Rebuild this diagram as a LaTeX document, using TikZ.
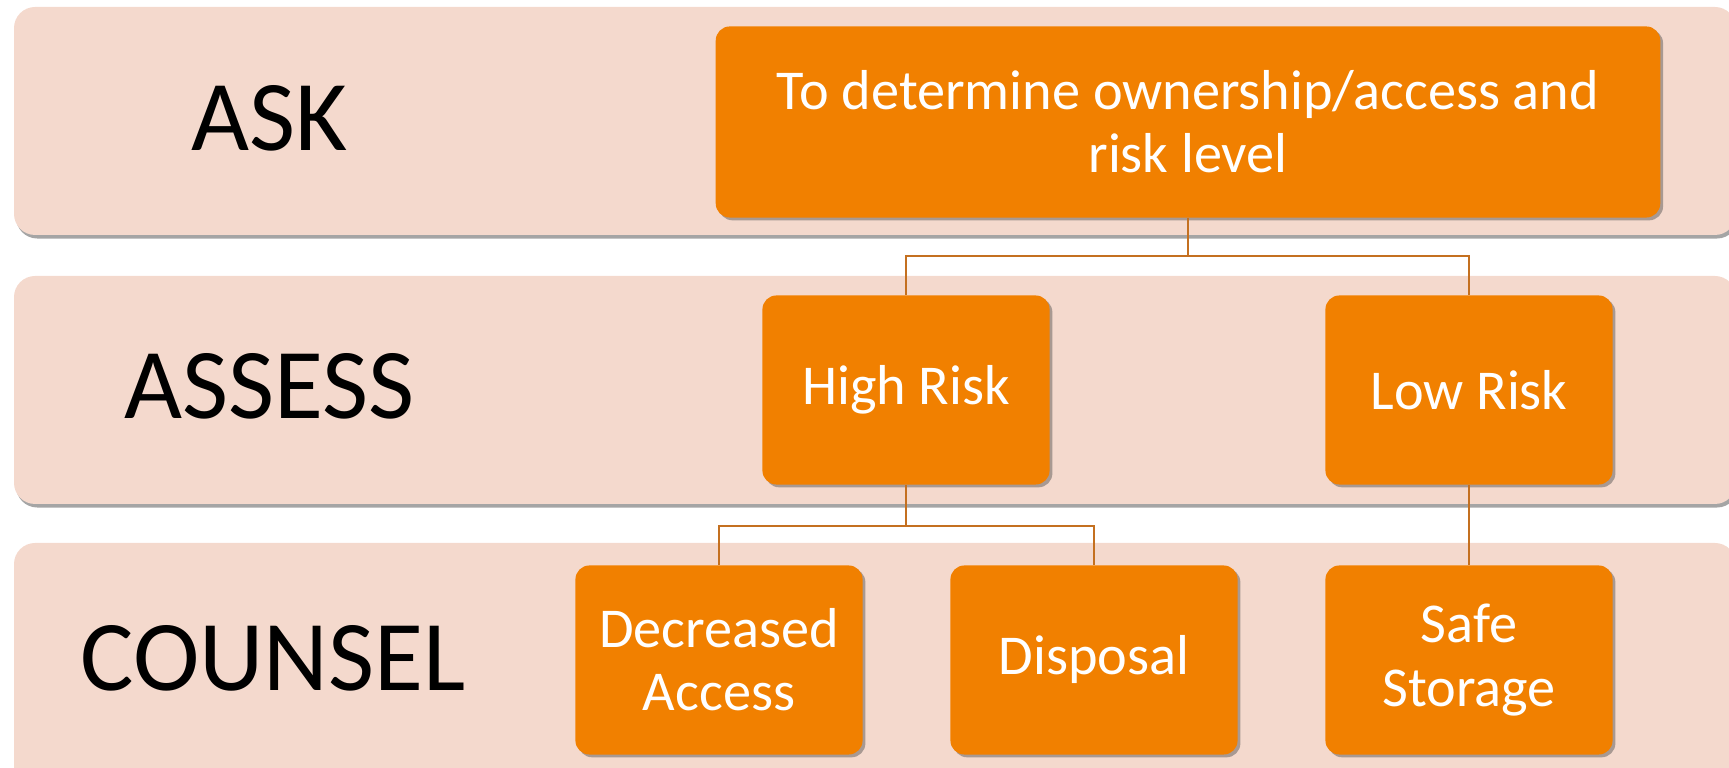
\documentclass[tikz,border=0pt]{standalone}
\usepackage{fontspec}
\setmainfont{Carlito}
\usetikzlibrary{shadows}
\definecolor{bandpink}{RGB}{244,217,205}
\definecolor{boxorange}{RGB}{241,128,0}
\definecolor{linkbrown}{RGB}{196,112,32}
\tikzset{
  band/.style={fill=bandpink,rounded corners=6pt,
    drop shadow={shadow xshift=0.6pt,shadow yshift=-1pt,opacity=0.5,fill=black!70}},
  bandlabel/.style={font=\fontsize{28.5}{32}\selectfont,text=black},
  stepbox/.style={fill=boxorange,rounded corners=4pt,text=white,align=center,
    minimum width=2.87cm,minimum height=1.89cm,inner sep=0pt,
    font=\fontsize{16}{18}\selectfont,
    drop shadow={shadow xshift=0.8pt,shadow yshift=-0.8pt,opacity=0.45,fill=black!70}},
  link/.style={draw=linkbrown,line width=0.6pt}
}

\begin{document}
\begin{tikzpicture}[x=0.01cm,y=-0.01cm]

  \useasboundingbox (0,0) rectangle (1729,768);
  \clip (0,0) rectangle (1729,768);

  \path[band] (14,7) rectangle (1736,235);
  \path[band] (14,276) rectangle (1736,504);
  \path[band] (14,543) rectangle (1736,800);

  \node[bandlabel] (ask) at (270,118) {ASK};
  \node[bandlabel] (assess) at (270,386) {ASSESS};
  \node[bandlabel] (counsel) at (273,658) {COUNSEL};

  \node[stepbox,minimum width=9.44cm,minimum height=1.91cm] (purpose) at (1188,122)
    {To determine ownership/access and\\risk level};

  \node[stepbox] (high) at (906,390) {High Risk};
  \node[stepbox] (low) at (1469,390) {Low Risk};

  \node[stepbox] (decrease) at (719,660) {Decreased\\Access};
  \node[stepbox] (disposal) at (1094,660) {Disposal};
  \node[stepbox] (storage) at (1469,660) {Safe\\Storage};

  \coordinate (split1) at (1188,256);
  \coordinate (split2) at (906,526);

  \draw[link] (purpose.south) -- (split1) -| (high.north);
  \draw[link] (split1) -| (low.north);
  \draw[link] (high.south) -- (split2) -| (decrease.north);
  \draw[link] (split2) -| (disposal.north);
  \draw[link] (low.south) -- (storage.north);

\end{tikzpicture}
\end{document}
